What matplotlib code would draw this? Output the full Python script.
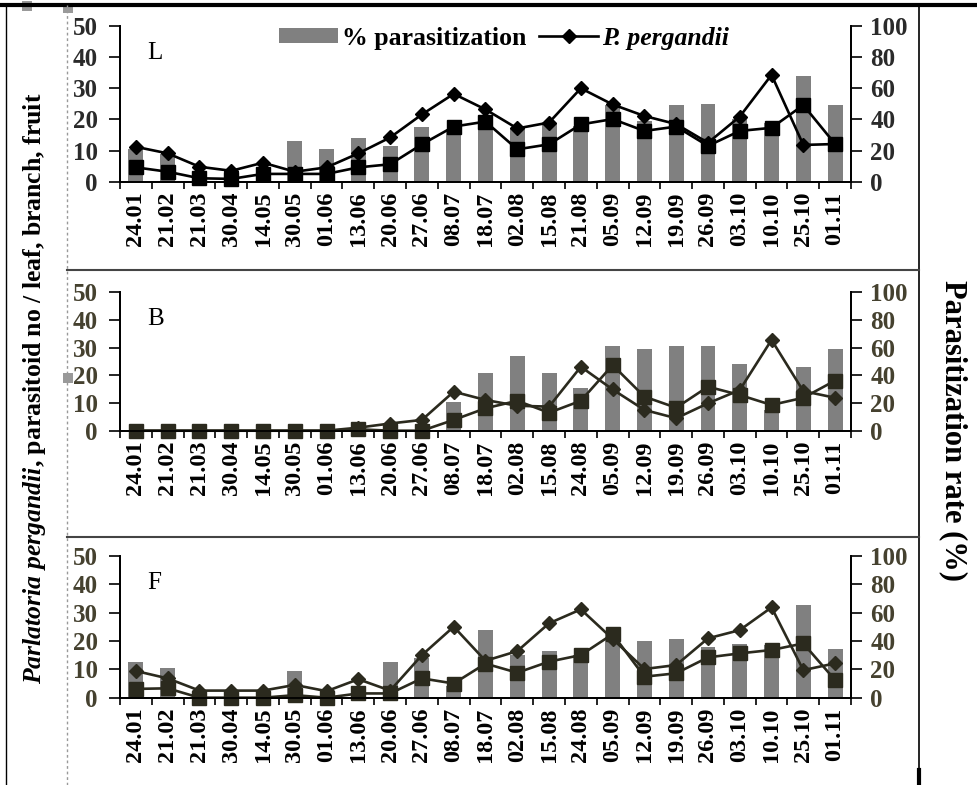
import numpy as np
import matplotlib
matplotlib.use('Agg')
import matplotlib.pyplot as plt
from matplotlib.lines import Line2D
from matplotlib.patches import Patch, Rectangle

plt.rcParams['font.family'] = 'Liberation Serif'
plt.rcParams['mathtext.fontset'] = 'custom'
plt.rcParams['mathtext.it'] = 'Liberation Serif:italic:bold'
plt.rcParams['mathtext.rm'] = 'Liberation Serif:bold'

# dates of sampling
dates_L = ['24.01', '21.02', '21.03', '30.04', '14.05', '30.05', '01.06', '13.06', '20.06', '27.06', '08.07', '18.07',
           '02.08', '15.08', '21.08', '05.09', '12.09', '19.09', '26.09', '03.10', '10.10', '25.10', '01.11']
dates_BF = ['24.01', '21.02', '21.03', '30.04', '14.05', '30.05', '01.06', '13.06', '20.06', '27.06', '08.07', '18.07',
            '02.08', '15.08', '24.08', '05.09', '12.09', '19.09', '26.09', '03.10', '10.10', '25.10', '01.11']

# leaf
L_pest = [11.2, 9.1, 4.8, 3.5, 6.1, 3.2, 4.6, 9.1, 14.2, 21.6, 28.2, 23.2, 17.1, 19.0, 30.0, 24.8, 21.1, 18.5, 12.5, 20.9, 34.3, 11.8, 12.1]
L_para = [4.6, 3.2, 1.1, 0.9, 2.5, 2.5, 2.5, 4.6, 5.6, 12.0, 17.7, 19.3, 10.4, 12.0, 18.4, 20.1, 16.3, 17.7, 11.5, 16.3, 17.3, 24.6, 12.1]
L_rate = [21, 18, 6, 4, 8, 26, 21, 28, 23, 35, 32, 42, 34, 37, 36, 49, 39, 49, 50, 40, 38, 68, 49]

# branch
B_pest = [0, 0, 0, 0, 0, 0, 0, 1.1, 2.6, 3.9, 14.1, 11.1, 9.0, 8.7, 23.1, 14.9, 7.5, 4.5, 9.9, 14.7, 32.8, 14.3, 11.9]
B_para = [0, 0, 0, 0, 0, 0, 0, 0.5, 0, 0, 3.9, 8.1, 10.8, 6.5, 10.8, 23.7, 12.3, 8.3, 15.9, 12.9, 9.3, 11.9, 18.1]
B_rate = [0, 0, 0, 0, 0, 0, 0, 0, 0, 0, 21, 42, 54, 42, 31, 61, 59, 61, 61, 48, 15, 46, 59]

# fruit
F_pest = [9.4, 6.8, 2.5, 2.5, 2.5, 4.5, 2.3, 6.5, 2.5, 15.0, 25.0, 13.0, 16.4, 26.2, 31.1, 20.7, 10.1, 11.5, 20.9, 23.8, 31.8, 9.7, 12.1]
F_para = [3.1, 3.3, 0, 0, 0, 0.9, 0, 1.5, 1.5, 6.8, 5.0, 12.0, 8.8, 12.7, 15.0, 22.4, 7.4, 8.6, 14.2, 15.6, 16.8, 19.1, 6.2]
F_rate = [25, 21, 0, 0, 0, 19, 0, 0, 25, 28, 8, 48, 30, 33, 30, 45, 40, 41, 36, 38, 37, 65, 34]

W, H = 978, 785
fig = plt.figure(figsize=(W / 100, H / 100), dpi=100)

def fx(px):
    return px / W

def fy(py):
    return 1 - py / H

panels = [
    ('L', dates_L, L_pest, L_para, L_rate, 26, 181.7, 'black', '#2a2a2a'),
    ('B', dates_BF, B_pest, B_para, B_rate, 292.3, 430.7, '#2b2a1e', '#45412f'),
    ('F', dates_BF, F_pest, F_para, F_rate, 555.7, 697.7, '#2b2a1e', '#45412f'),
]

left, right = 120, 851
for name, dates, pest, para, rate, ytop, ybot, lc, tc in panels:
    ax = fig.add_axes([fx(left), fy(ybot), fx(right - left), (ybot - ytop) / H])
    ax2 = ax.twinx()
    x = np.arange(len(dates))
    ax2.bar(x, rate, width=0.47, color='#808080')
    ax.plot(x, pest, marker='D', ms=7.5, color=lc, lw=1.9, clip_on=False)
    ax.plot(x, para, marker='s', ms=10.5, color=lc, lw=1.9, clip_on=False)
    ax.set_zorder(ax2.get_zorder() + 1)
    ax.patch.set_visible(False)

    ax.set_xlim(-0.5, len(dates) - 0.5)
    ax.set_ylim(0, 50)
    ax2.set_ylim(0, 100)
    ax.set_yticks([0, 10, 20, 30, 40, 50])
    ax2.set_yticks([0, 20, 40, 60, 80, 100])
    ax.set_xticks(np.arange(-0.5, len(dates), 1))
    ax.set_xticklabels([])
    ax.set_xticks(x, minor=True)
    ax.set_xticklabels(dates, minor=True, rotation=90, fontsize=17.5, fontweight='bold')
    ax.tick_params(axis='x', which='major', length=5, width=1.2, direction='out')
    ax.tick_params(axis='x', which='minor', length=0, pad=7)
    ax.tick_params(axis='y', length=8, width=1.2, pad=8, labelsize=18, labelcolor=tc)
    ax2.tick_params(axis='y', length=8, width=1.2, pad=6, labelsize=18, labelcolor=tc)
    for t in ax.get_yticklabels() + ax2.get_yticklabels():
        t.set_fontweight('bold')
    for a in (ax, ax2):
        a.spines['top'].set_visible(False)
        for s in ('left', 'right', 'bottom'):
            a.spines[s].set_linewidth(1.3)
    fig.text(fx(147), fy(ytop + 27), name, fontsize=18, ha='left', va='center')

    if name == 'L':
        handles = [Patch(facecolor='#808080', edgecolor='none'),
                   Line2D([0], [0], color='black', lw=1.9, marker='D', ms=7.5)]
        labels = ['% parasitization', 'P. pergandii']
        leg = ax.legend(handles, labels, loc='center left', bbox_to_anchor=(fx(279), fy(38)),
                        bbox_transform=fig.transFigure, ncol=2, frameon=False,
                        prop={'size': 18.5, 'weight': 'bold'}, handlelength=2.3, handleheight=0.55,
                        columnspacing=0.5, handletextpad=0.15, borderpad=0, borderaxespad=0)
        leg.get_texts()[1].set_fontstyle('italic')

fig.text(fx(35), fy(388), r'$Parlatoria\ pergandii$, parasitoid no / leaf, branch, fruit',
         rotation=90, fontsize=18.5, fontweight='bold', ha='center', va='center')
fig.text(fx(953), fy(430), 'Parasitization rate (%)', rotation=-90, fontsize=22,
         fontweight='bold', ha='center', va='center')

# page frame
fig.add_artist(Line2D([0, 1], [fy(5), fy(5)], color='black', lw=3))
fig.add_artist(Line2D([fx(6), fx(6)], [0, fy(5)], color='black', lw=1))
fig.add_artist(Line2D([fx(67), fx(67)], [0, fy(5)], color='#999999', lw=1, ls=(0, (2, 2))))
fig.add_artist(Line2D([fx(919), fx(919)], [0, fy(5)], color='black', lw=1.2))
fig.add_artist(Line2D([fx(919), fx(919)], [0, fy(770)], color='black', lw=3))
for yy in (270, 537):
    fig.add_artist(Line2D([fx(67), fx(919)], [fy(yy), fy(yy)], color='#444444', lw=1.5))
for hx, hy in ((27, 6), (68, 8), (68, 378)):
    fig.add_artist(Rectangle((fx(hx - 5), fy(hy + 5)), fx(10), 10 / H, facecolor='#999999', edgecolor='none'))

fig.savefig('out.png', dpi=100)
